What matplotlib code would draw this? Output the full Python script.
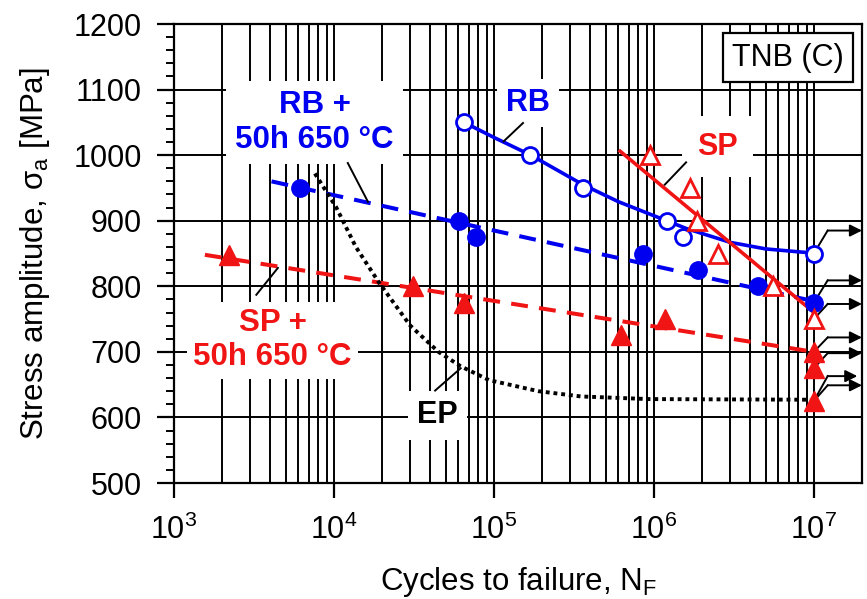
import matplotlib
matplotlib.use("Agg")
import matplotlib.pyplot as plt
from matplotlib.ticker import LogLocator, MultipleLocator, NullFormatter

plt.rcParams['font.family'] = ['Liberation Sans', 'DejaVu Sans']
plt.rcParams['mathtext.default'] = 'regular'

BLUE = '#0000f0'
RED = '#f01414'

# RB (open circles, solid fit)
rb_n = [6.5e4, 1.68e5, 3.6e5, 1.2e6, 1.52e6, 1.0e7]
rb_s = [1050, 1000, 950, 900, 875, 850]
rb_fit_n = [6.5e4, 1.0e5, 1.7e5, 3.6e5, 6e5, 1.2e6, 1.6e6, 3e6, 5e6, 8.5e6, 1.0e7]
rb_fit_s = [1050, 1027, 1000, 955, 929, 900, 888, 867, 857, 852, 851]

# RB + 50h 650 C (filled circles, dashed fit)
rbh_n = [6.15e3, 6.05e4, 7.7e4, 8.6e5, 1.89e6, 4.5e6, 1.0e7]
rbh_s = [950, 900, 875, 850, 825, 800, 775]
rbh_fit_n = [4.07e3, 9.7e6]
rbh_fit_s = [960, 778]

# SP (open triangles, solid fit)
sp_n = [9.4e5, 1.69e6, 1.85e6, 2.52e6, 5.56e6, 1.0e7]
sp_s = [1000, 950, 900, 850, 800, 750]
sp_fit_n = [6.15e5, 9.8e6]
sp_fit_s = [1006, 762]

# SP + 50h 650 C (filled triangles, dashed fit)
sph_n = [2.2e3, 3.14e4, 6.5e4, 6.25e5, 1.17e6, 1.0e7, 1.0e7, 1.0e7]
sph_s = [848, 800, 775, 725, 750, 700, 675, 625]
sph_fit_n = [1.56e3, 1.0e7]
sph_fit_s = [848, 700]

# EP (dotted curve)
ep_n = [7.6e3, 1.03e4, 1.37e4, 1.92e4, 3.0e4, 4.5e4, 6.2e4, 9.3e4, 1.9e5, 3.5e5, 9.2e5, 9.5e6]
ep_s = [972, 921, 860, 805, 740, 700, 678, 657, 640, 632, 628, 627]

# run-outs at 1e7 cycles: start level, arrow level, arrow end
runout_s = [850, 775, 750, 700, 675, 625, 625]
arrow_s = [885, 809, 773, 722, 698, 663, 649]
arrow_end = [2.0e7, 2.0e7, 2.0e7, 2.0e7, 2.0e7, 1.87e7, 2.0e7]

fig = plt.figure(figsize=(8.67, 5.99), dpi=100)
ax = fig.add_axes([174 / 867, 1 - 483 / 599, 688 / 867, 459 / 599])
ax.set_xscale('log')
ax.set_xlim(1e3, 2e7)
ax.set_ylim(500, 1200)

ax.xaxis.set_major_locator(LogLocator(base=10, numticks=10))
ax.xaxis.set_minor_locator(LogLocator(base=10, subs=range(2, 10), numticks=20))
ax.xaxis.set_minor_formatter(NullFormatter())
ax.yaxis.set_major_locator(MultipleLocator(100))
ax.yaxis.set_minor_locator(MultipleLocator(20))

ax.grid(which='both', axis='x', color='black', lw=1.4, zorder=0)
ax.grid(which='major', axis='y', color='black', lw=1.4, zorder=0)
ax.set_axisbelow(True)
for sp in ax.spines.values():
    sp.set_linewidth(1.6)

ax.tick_params(axis='both', which='major', labelsize=22, width=1.6, direction='out')
ax.tick_params(axis='y', which='major', length=12, pad=11)
ax.tick_params(axis='y', which='minor', length=6, width=1.4, direction='out')
ax.tick_params(axis='x', which='major', length=11, pad=12)
ax.tick_params(axis='x', which='minor', length=0)

ax.set_xlabel('Cycles to failure, N$_{F}$', fontsize=22.5)
ax.set_ylabel('Stress amplitude, σ$_{a}$ [MPa]', fontsize=22.5)
ax.xaxis.set_label_coords(0.5, -0.178)
ax.yaxis.set_label_coords(-0.178, 0.5)

# fit lines
ax.plot(rb_fit_n, rb_fit_s, color=BLUE, lw=2.6, zorder=3)
ax.plot(rbh_fit_n, rbh_fit_s, color=BLUE, lw=2.9, ls=(0, (4.2, 2.8)), zorder=3)
ax.plot(sp_fit_n, sp_fit_s, color=RED, lw=2.6, zorder=3)
ax.plot(sph_fit_n, sph_fit_s, color=RED, lw=2.9, ls=(0, (4.2, 2.8)), zorder=3)
ax.plot(ep_n, ep_s, color='black', lw=2.8, ls=(0, (1.0, 1.0)), zorder=3)

# run-out arrows
for s, sa, xe in zip(runout_s, arrow_s, arrow_end):
    ax.plot([1.0e7, 1.22e7], [s, sa], color='black', lw=1.4, zorder=3, clip_on=False)
    ax.annotate('', xy=(xe, sa), xytext=(1.22e7, sa), annotation_clip=False,
                arrowprops=dict(arrowstyle='-|>', color='black', lw=1.4,
                                mutation_scale=18, shrinkA=0, shrinkB=0), zorder=3)

# data points
ax.plot(rb_n, rb_s, 'o', ms=11.5, mfc='white', mec=BLUE, mew=2.0, zorder=5, clip_on=False)
ax.plot(rbh_n, rbh_s, 'o', ms=12.5, mfc=BLUE, mec=BLUE, zorder=5, clip_on=False)
ax.plot(sp_n, sp_s, '^', ms=13.5, mfc='white', mec=RED, mew=2.0, zorder=5, clip_on=False)
ax.plot(sph_n, sph_s, '^', ms=14, mfc=RED, mec=RED, zorder=5, clip_on=False)

# labels with leader lines
box = dict(boxstyle='square,pad=0.3', fc='white', ec='none')
ax.text(1.63e5, 1080, 'RB', color=BLUE, fontsize=22, fontweight='bold',
        ha='center', va='center', bbox=box, zorder=2)
ax.plot([1.52e5, 1.15e5], [1049, 1021], color='black', lw=1.4, zorder=3)
ax.text(2.5e6, 1013, 'SP', color=RED, fontsize=22, fontweight='bold',
        ha='center', va='center', bbox=dict(boxstyle='square,pad=0.5', fc='white', ec='none'), zorder=2)
ax.plot([1.59e6, 1.17e6], [989, 955], color='black', lw=1.4, zorder=3)
ax.text(7.57e3, 1050, 'RB +\n50h 650 °C', color=BLUE, fontsize=22.5, fontweight='bold',
        ha='center', va='center', linespacing=1.2, bbox=box, zorder=2)
ax.plot([1.22e4, 1.63e4], [988, 929], color='black', lw=1.4, zorder=3)
ax.text(4.14e3, 718, 'SP +\n50h 650 °C', color=RED, fontsize=22.5, fontweight='bold',
        ha='center', va='center', linespacing=1.2,
        bbox=dict(boxstyle='square,pad=0.2', fc='white', ec='none'), zorder=2)
ax.plot([3.27e3, 4.46e3], [787, 828], color='black', lw=1.4, zorder=3)
ax.text(4.44e4, 603, 'EP', color='black', fontsize=22, fontweight='bold',
        ha='center', va='center', bbox=box, zorder=2)
ax.plot([4.29e4, 6.2e4], [641, 675], color='black', lw=1.4, zorder=3)

ax.text(0.8925, 0.927, 'TNB (C)', transform=ax.transAxes, fontsize=22,
        ha='center', va='center',
        bbox=dict(boxstyle='square,pad=0.3', fc='white', ec='black', lw=1.6), zorder=6)

fig.savefig('out.png', dpi=100)
